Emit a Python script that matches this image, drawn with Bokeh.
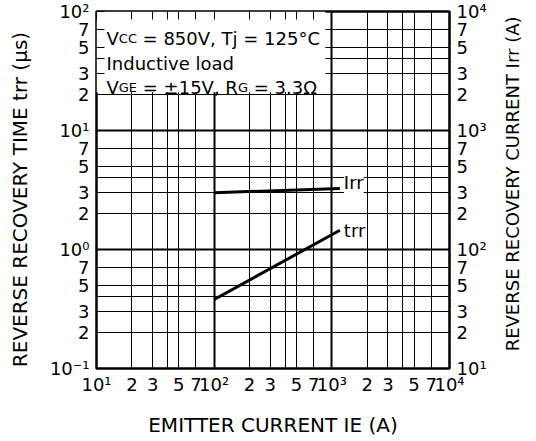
import math
from bokeh.plotting import figure
from bokeh.models import Range1d, LogScale, LogAxis, FixedTicker, Grid, Label
from bokeh.embed import file_html
from bokeh.resources import INLINE

# ---- data ----
IE = [100, 1170]          # emitter current (A)
TRR = [0.38, 1.45]        # reverse recovery time (us)
IRR = [300, 325]          # reverse recovery current (A)

X_TICKS = [10, 20, 30, 40, 50, 70, 100, 200, 300, 400, 500, 700,
           1000, 2000, 3000, 4000, 5000, 7000, 10000]
X_TICK_LABELS = ["10¹", "2", "3", "", "5", "7", "10²", "2", "3", "", "5", "7",
                 "10³", "2", "3", "", "5", "7", "10⁴"]
X_DECADES = [10, 100, 1000, 10000]

YL_TICKS = [0.1, 0.2, 0.3, 0.4, 0.5, 0.7, 1, 2, 3, 4, 5, 7,
            10, 20, 30, 40, 50, 70, 100]
YL_TICK_LABELS = ["10⁻¹", "2", "3", "", "5", "7", "10⁰", "2", "3", "", "5", "7",
                  "10¹", "2", "3", "", "5", "7", "10²"]
YL_DECADES = [0.1, 1, 10, 100]

YR_TICKS = [10, 20, 30, 40, 50, 70, 100, 200, 300, 400, 500, 700,
            1000, 2000, 3000, 4000, 5000, 7000, 10000]
YR_TICK_LABELS = ["10¹", "2", "3", "", "5", "7", "10²", "2", "3", "", "5", "7",
                  "10³", "2", "3", "", "5", "7", "10⁴"]

X_TITLE = "EMITTER CURRENT IE (A)"
YL_TITLE = "REVERSE RECOVERY TIME trr (µs)"
YR_TITLE = "REVERSE RECOVERY CURRENT Irr (A)"

FONT = "DejaVu Sans"

X_RANGE = (10, 10000)
YL_RANGE = (0.1, 100)
YR_RANGE = (10, 10000)

p = figure(width=536, height=441, x_axis_type="log", y_axis_type="log",
           x_range=Range1d(*X_RANGE), y_range=Range1d(*YL_RANGE),
           output_backend="svg", toolbar_location=None,
           min_border_left=96, min_border_right=84,
           min_border_top=11, min_border_bottom=73)
p.extra_y_ranges = {"irr": Range1d(*YR_RANGE)}
p.extra_y_scales = {"irr": LogScale()}

p.background_fill_color = "white"
p.border_fill_color = "white"
p.outline_line_color = "black"
p.outline_line_width = 2.5
p.outline_line_alpha = 1.0

# grids: thin lines at 2,3,4,5,7 and thicker decade lines
p.xgrid.ticker = FixedTicker(ticks=[t for t in X_TICKS if t not in X_DECADES])
p.ygrid.ticker = FixedTicker(ticks=[t for t in YL_TICKS if t not in YL_DECADES])
for g in (p.xgrid[0], p.ygrid[0]):
    g.grid_line_color = "black"
    g.grid_line_alpha = 1.0
    g.grid_line_width = 1
p.add_layout(Grid(dimension=0, ticker=FixedTicker(ticks=X_DECADES),
                  grid_line_color="black", grid_line_width=2), "center")
p.add_layout(Grid(dimension=1, ticker=FixedTicker(ticks=YL_DECADES),
                  grid_line_color="black", grid_line_width=2), "center")

xa = p.xaxis[0]
ya = p.yaxis[0]
xa.ticker = FixedTicker(ticks=X_TICKS)
xa.major_label_overrides = dict(zip(X_TICKS, X_TICK_LABELS))
xa.major_label_standoff = 5
xa.axis_label = X_TITLE
xa.axis_label_standoff = 15

ya.ticker = FixedTicker(ticks=YL_TICKS)
ya.major_label_overrides = dict(zip(YL_TICKS, YL_TICK_LABELS))
ya.major_label_standoff = 7
ya.axis_label = YL_TITLE + "\u00a0\u00a0\u00a0"
ya.axis_label_standoff = 15

ra = LogAxis(y_range_name="irr", ticker=FixedTicker(ticks=YR_TICKS),
             major_label_overrides=dict(zip(YR_TICKS, YR_TICK_LABELS)),
             major_label_standoff=7,
             axis_label="\u00a0\u00a0\u00a0" + YR_TITLE, axis_label_standoff=23,
             axis_label_orientation=math.pi / 2, axis_label_align="start")
p.add_layout(ra, "right")

ta = LogAxis(ticker=FixedTicker(ticks=X_TICKS),
             major_label_overrides={t: "" for t in X_TICKS},
             major_label_standoff=0, major_label_text_font_size="0px")
p.add_layout(ta, "above")

for ax in (xa, ya, ra, ta):
    ax.major_tick_in = 8
    ax.major_tick_out = 0
    ax.major_tick_line_color = "black"
    ax.major_tick_line_width = 1
    ax.minor_tick_line_color = None
    ax.axis_line_color = None
    ax.major_label_text_font = FONT
    ax.major_label_text_color = "black"
    ax.axis_label_text_font = FONT
    ax.axis_label_text_font_size = "20px"
    ax.axis_label_text_font_style = "normal"
    ax.axis_label_text_color = "black"
for ax in (xa, ya, ra):
    ax.major_label_text_font_size = "18px"
ra.axis_label_text_font_size = "18px"

# white box behind the conditions text
p.quad(left=[X_RANGE[0]], right=[880], bottom=[21], top=[YL_RANGE[1]],
       fill_color="white", line_color=None)

# curves
p.line(IE, TRR, line_color="black", line_width=3)
p.line(IE, IRR, y_range_name="irr", line_color="black", line_width=3)

p.add_layout(Label(x=IE[-1], y=IRR[-1], y_range_name="irr", text="Irr",
                   x_offset=4, y_offset=6, text_baseline="middle",
                   text_font=FONT, text_font_size="18px", text_color="black",
                   background_fill_color="white"))
p.add_layout(Label(x=IE[-1], y=TRR[-1], text="trr",
                   x_offset=4, y_offset=0, text_baseline="middle",
                   text_font=FONT, text_font_size="18px", text_color="black",
                   background_fill_color="white"))

# conditions text (pieces so that subscripts can be smaller)
ANNOT = [
    ("V", 18, 10, 27), ("CC", 13, 22.3, 27), ("= 850V, Tj = 125°C", 18, 46.1, 27),
    ("Inductive load", 18, 10, 52),
    ("V", 18, 10, 76), ("GE", 13, 22.3, 76), ("= ±15V, R", 18, 46.3, 76),
    ("G", 13, 141.4, 76), ("= 3.3Ω", 18, 157.2, 76),
]
for txt, size, dx, dy in ANNOT:
    p.add_layout(Label(x=X_RANGE[0], y=YL_RANGE[1], text=txt,
                       x_offset=dx, y_offset=-dy,
                       text_align="left", text_baseline="alphabetic",
                       text_font=FONT, text_font_size=f"{size}px",
                       text_color="black"))

open("out.html", "w").write(file_html(p, INLINE))
